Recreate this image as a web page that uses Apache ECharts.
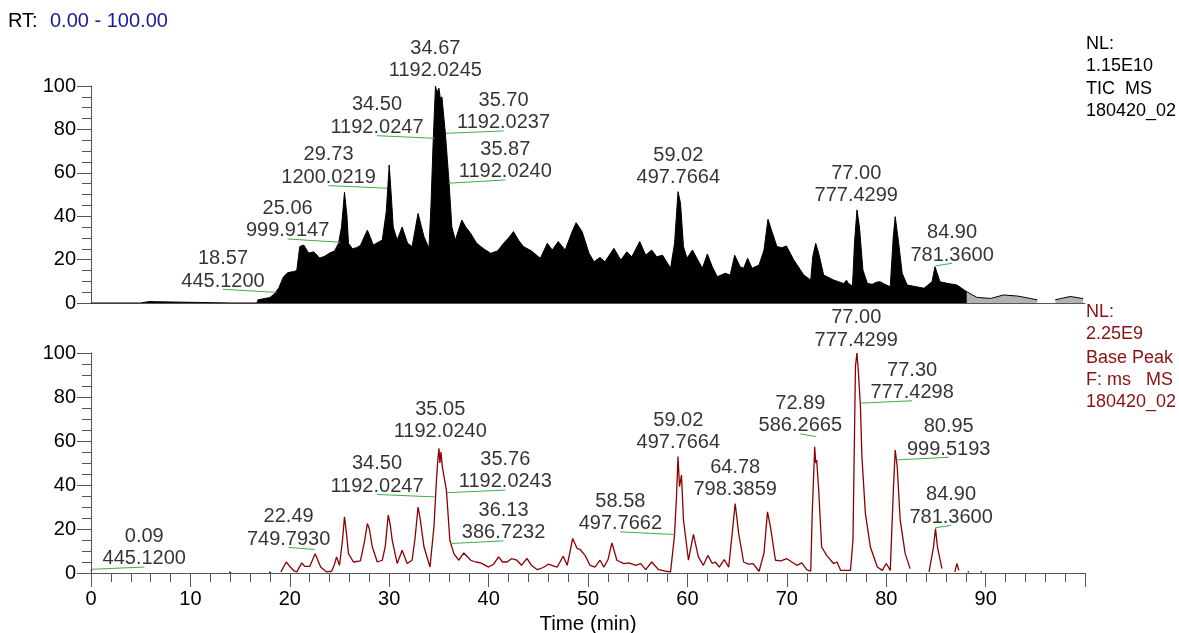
<!DOCTYPE html>
<html>
<head>
<meta charset="utf-8">
<script src="https://cdn.jsdelivr.net/npm/echarts@6/dist/echarts.min.js"></script>
<style>
html,body{margin:0;padding:0;background:#fff;}
#c{width:1179px;height:633px;}
</style>
</head>
<body>
<div id="c"></div>
<script>
// ---------------- DATA ----------------
// TIC trace (top panel), retention time (min) and relative abundance (%)
var ticRT  = [0,3.4,3.5,3.6,5.0,5.2,5.6,6.0,6.4,6.6,14.1,14.2,14.3,16.7,16.8,17.2,17.6,18.0,18.5,18.9,19.35,19.8,20.4,20.7,21.0,21.4,21.9,22.4,23.0,23.5,24.0,24.5,24.9,25.2,25.5,25.75,25.9,26.3,26.7,27.1,27.8,28.4,28.9,29.3,29.7,30.0,30.2,30.4,30.8,31.3,31.85,32.3,32.9,33.5,34.0,34.2,34.4,34.65,34.8,35.0,35.15,35.3,35.65,36.0,36.3,36.65,37.3,37.7,38.2,38.8,39.5,40.2,40.9,41.5,42.0,42.5,43.0,43.5,44.3,45.2,45.9,46.4,47.0,47.7,48.4,48.8,49.4,50.1,50.6,51.2,51.7,52.6,53.3,53.9,54.4,55.2,55.8,56.4,56.9,57.5,58.3,58.7,59.05,59.3,59.6,59.95,60.5,60.95,61.5,62.0,62.5,63.0,63.8,64.3,64.75,65.3,65.65,66.05,66.5,67.2,67.7,68.1,68.45,69.0,69.5,69.95,70.7,71.7,72.4,72.6,72.9,73.2,73.7,74.7,75.2,75.7,76.0,76.2,76.6,76.8,77.05,77.3,77.65,78.1,78.6,79.0,79.4,79.8,80.4,80.7,80.9,81.25,81.6,82.1,83.0,83.8,84.6,84.9,85.4,86.2,87.1,88.1];
var ticInt = [0,0,0.7,0,0,0.6,0.5,0.7,0.6,0,0,0.5,0,0,1.5,1.8,2.2,2.5,4.5,7,12,14,14.5,15,26,26.7,23,23.6,20.7,21.5,23,24,27.5,35,51,40,27.5,25,25.5,26.5,33.6,26.7,28,29,42,63.6,50,35,29,35,27.5,26,41.3,30.5,25.2,45,72,100,97,99,94,95,78,56.7,35,29,38.2,35,32,27.5,25,22.9,24,27.5,30,32.9,29,26,24,20.6,27.5,24.4,28.3,24.4,32.9,37,32.9,22.9,19,21,19,25.2,19.8,23.6,21.3,28.3,22,24.4,21.3,22,16,27.5,51.3,46,26,20.6,24.4,20.6,16,22.6,16.7,12.1,13.7,12.9,22,16.7,16,20.6,16,17.5,24.4,38.6,33.6,26,25.5,26.3,19.8,12.9,10.6,21.3,27.5,22.9,12.9,10.6,9.8,9,10.5,9,7.8,27.5,42.9,35,15.2,9,8.6,9.6,9.8,8.7,7.5,30.5,39.8,27.5,13.7,8.3,7.5,6.8,9.8,16.7,9.8,9,8.3,5.2];
// TIC tail (sparse scans)
var ticTailRT  = [88.1,89.1,90.5,91.8,93.2,94.5,95.2,95.4,96.2,96.3,96.4,97.0,97.5,98.5,99.2,99.8];
var ticTailInt = [5.2,2.6,2.1,3.7,3.2,2.1,1.4,null,null,0.8,null,1.5,2,3,2.5,2];

// Base peak trace (bottom panel)
var bpRT  = [0.0,0.09,0.2,0.3,13.9,14.0,14.1,14.2,17.9,18.0,18.1,18.2,19.1,19.2,19.65,20.05,20.4,20.7,21.2,21.5,21.7,22.0,22.55,23.1,23.7,24.2,24.5,24.7,25.0,25.3,25.5,25.7,25.9,26.4,27.1,27.5,27.8,28.0,28.3,28.8,29.3,29.6,29.9,30.1,30.3,30.8,31.3,31.8,32.3,32.6,32.9,33.1,33.5,34.1,34.5,34.75,34.9,35.0,35.1,35.2,35.35,35.5,35.75,36.1,36.5,37.0,37.5,38.2,38.7,39.2,40.0,40.5,41.0,41.4,41.85,42.3,42.85,43.3,43.85,44.3,44.9,45.5,46.0,46.2,46.9,47.5,47.9,48.2,48.45,48.9,49.2,49.7,50.2,50.7,51.2,51.6,52.0,52.4,52.9,53.6,54.1,54.8,55.3,55.8,56.4,57.1,57.8,58.3,58.7,58.9,59.05,59.2,59.4,59.6,60.1,60.6,61.1,61.6,62.05,62.5,62.8,63.2,63.7,64.15,64.5,64.8,65.15,65.65,66.15,66.6,67.2,67.7,68.05,68.35,68.85,69.4,70.0,70.5,71.0,71.5,72.0,72.4,72.55,72.8,72.9,73.0,73.2,73.5,74.0,74.7,75.05,75.4,76.4,76.65,76.9,77.05,77.2,77.4,77.55,77.9,78.4,79.1,79.6,80.0,80.4,80.7,80.9,81.1,81.4,81.9,82.4,82.6,84.3,84.4,84.75,84.95,85.15,85.6,85.8,86.9,87.1,87.3,87.4,88.2,88.3,88.4,89.5,89.6,89.7];
var bpInt = [0.8,1.7,0.5,null,0.3,1.0,0.3,null,0.3,1.0,0.3,null,0.5,1.2,5,2.7,1,0.5,4.6,3,3.5,3,8.8,2.7,0.5,0.8,4,7.3,3.5,15,25.5,18,8.8,5,5.5,14,22.5,20,11.8,5,5.8,12,26.3,22,14.9,4.3,10.3,4.3,5.8,16,30,25,11.8,2.7,21,42.3,52,56.7,50,55,48,48.3,37.7,14.9,8.8,5.8,9.1,5.8,5,4.6,2.7,4,7.3,5,5,6.5,5.8,3.5,6.6,3.5,1.5,2.5,4,4.6,2.7,7.6,3.5,10,15.7,11.1,10.7,8,3.5,2.7,5.8,2.7,6,13.7,5.8,4.3,4.6,3.5,4.3,1.5,5,1.5,0.8,0.5,17.2,35,52.9,39.2,44.5,24,5.8,17.6,7.3,3.5,8,4.3,5,2.7,6.1,2.7,18,31.6,18,5,4,4.3,0.8,9.1,27.8,21,5.8,5.5,6.5,5,3.5,4.6,1.5,0.8,27,57.4,50,51.4,37.7,11.8,8,4.3,5,1.2,1.2,14.9,93.9,100,90.9,75.7,52.9,27,11.8,2.7,1.2,4.3,1.2,36.2,55.9,48.3,24,8.8,2,null,0.5,1.2,11.8,20.2,11.8,2,null,0.5,4.3,1.2,null,0.3,0.8,null,0.3,0.8,null];

// Peak annotations: labels (RT, m/z) and the labelled point on the trace
var topAnnRT    = ['18.57','25.06','29.73','34.50','34.67','35.70','35.87','59.02','77.00','84.90'];
var topAnnMZ    = ['445.1200','999.9147','1200.0219','1192.0247','1192.0245','1192.0237','1192.0240','497.7664','777.4299','781.3600'];
var topAnnPeakT = [18.64,25.08,29.78,34.57,34.64,35.71,35.98,59.08,76.98,84.94];
var topAnnPeakV = [4.9,28.0,52.9,75.9,103.2,78.2,55.2,53.9,45.6,17.1];
var botAnnRT    = ['0.09','22.49','34.50','35.05','35.76','36.13','58.58','59.02','64.78','72.89','77.00','77.30','80.95','84.90'];
var botAnnMZ    = ['445.1200','749.7930','1192.0247','1192.0240','1192.0243','386.7232','497.7662','497.7664','798.3859','586.2665','777.4299','777.4298','999.5193','781.3600'];
var botAnnPeakT = [0.1,22.5,34.57,35.13,35.81,36.15,58.68,59.08,64.8,72.96,76.98,77.39,81.01,84.94];
var botAnnPeakV = [1.7,10.7,34.6,60.5,36.5,13.4,17.5,55.5,34.0,62.0,102,77.2,51.4,20.5];

var xTickLabels = ['0','10','20','30','40','50','60','70','80','90'];
var yTickLabels = ['0','20','40','60','80','100'];

// ---------------- LAYOUT (label anchors in axis units; null = label sits on the point) ----------------
var topLabelT = [13.28,19.78,23.9,28.77,null,41.5,41.68,null,null,86.62];
var topLabelV = [6.3,29.5,54.1,77.1,null,79.3,56.7,null,null,18.3];
var botLabelT = [5.36,19.88,28.77,null,41.68,41.5,53.25,null,null,71.35,null,82.6,86.28,86.52];
var botLabelV = [2.7,11.6,35.7,null,37.7,14.6,18.7,null,null,63.2,null,78.3,52.6,21.7];

var FONT = '"Liberation Sans", Arial, Helvetica, sans-serif';

function zip(a, b) { var r = []; for (var i = 0; i < a.length; i++) r.push([a[i], b[i]]); return r; }

function annLabels(rt, mz, pt, pv, lt, lv) {
  var out = [];
  for (var i = 0; i < rt.length; i++) {
    var x = lt[i] == null ? pt[i] : lt[i];
    var y = lv[i] == null ? pv[i] : lv[i];
    out.push({ value: [x, y], rt: rt[i], mz: mz[i] });
  }
  return out;
}
function annLeaders(pt, pv, lt, lv) {
  var out = [];
  for (var i = 0; i < pt.length; i++) {
    if (lt[i] == null) continue;
    out.push({ coords: [[pt[i], pv[i]], [lt[i], lv[i]]] });
  }
  return out;
}

var chart = echarts.init(document.getElementById('c'), null, { renderer: 'canvas' });

function xAxis(idx, showTicks) {
  return {
    type: 'value', gridIndex: idx, min: 0, max: 99.99, interval: 10,
    axisLine: { show: true, onZero: false, lineStyle: { color: '#555', width: 1 } },
    axisTick: { show: showTicks, length: 14, lineStyle: { color: '#555' } },
    minorTick: { show: showTicks, splitNumber: 5, length: 9, lineStyle: { color: '#555' } },
    axisLabel: { show: showTicks, margin: 16, color: '#000', fontSize: 20, fontFamily: FONT,
      formatter: function (v) { var k = xTickLabels.indexOf(String(Math.round(v))); return k >= 0 ? xTickLabels[k] : ''; } },
    splitLine: { show: false }, minorSplitLine: { show: false },
    name: showTicks ? 'Time (min)' : '', nameLocation: 'middle', nameGap: 41,
    nameTextStyle: { color: '#000', fontSize: 20.5, fontFamily: FONT }
  };
}
function yAxis(idx) {
  return {
    type: 'value', gridIndex: idx, min: 0, max: 100, interval: 20,
    axisLine: { show: true, lineStyle: { color: '#555', width: 1 } },
    axisTick: { show: true, length: 14, lineStyle: { color: '#555' } },
    minorTick: { show: true, splitNumber: 4, length: 9, lineStyle: { color: '#555' } },
    axisLabel: { margin: 15, color: '#000', fontSize: 20, fontFamily: FONT,
      formatter: function (v) { var k = yTickLabels.indexOf(String(Math.round(v))); return k >= 0 ? yTickLabels[k] : ''; } },
    splitLine: { show: false }, minorSplitLine: { show: false }
  };
}

var labelStyle = {
  show: true, position: 'top', distance: -3, color: '#000', fontSize: 20, lineHeight: 22.5,
  fontFamily: FONT, align: 'center',
  formatter: function (p) { return p.data.rt + '\n' + p.data.mz; }
};

function txt(x, y, s, color, size) {
  return { type: 'text', left: x, top: y, style: { text: s, fill: color, font: size + 'px ' + FONT } };
}
var red = '#8b1010';

var option = {
  animation: false,
  backgroundColor: '#fff',
  grid: [
    { left: 91, width: 994, top: 86, height: 217, outerBoundsMode: 'none', containLabel: false },
    { left: 91, width: 994, top: 353, height: 220, outerBoundsMode: 'none', containLabel: false }
  ],
  xAxis: [xAxis(0, false), xAxis(1, true)],
  yAxis: [yAxis(0), yAxis(1)],
  graphic: [
    txt(8, 11, 'RT:', '#000', 20),
    txt(50, 11, '0.00 - 100.00', '#1a1a9c', 20),
    txt(1086, 35, 'NL:', '#000', 18),
    txt(1086, 57, '1.15E10', '#000', 18),
    txt(1086, 80, 'TIC  MS', '#000', 18),
    txt(1086, 102, '180420_02', '#000', 18),
    txt(1086, 303, 'NL:', red, 18),
    txt(1086, 325, '2.25E9', red, 18),
    txt(1086, 349, 'Base Peak', red, 18),
    txt(1086, 371, 'F: ms   MS', red, 18),
    txt(1086, 393, '180420_02', red, 18)
  ],
  series: [
    { type: 'line', xAxisIndex: 0, yAxisIndex: 0, data: zip(ticRT, ticInt), symbol: 'none',
      lineStyle: { color: '#000', width: 1 }, areaStyle: { color: '#000', opacity: 1 }, z: 2 },
    { type: 'line', xAxisIndex: 0, yAxisIndex: 0, data: zip(ticTailRT, ticTailInt), symbol: 'none',
      lineStyle: { color: '#000', width: 1 }, areaStyle: { color: '#000', opacity: 0.3 }, z: 2 },
    { type: 'line', xAxisIndex: 1, yAxisIndex: 1, data: zip(bpRT, bpInt), symbol: 'none',
      lineStyle: { color: '#8b0000', width: 1.3 }, z: 2 },
    { type: 'lines', coordinateSystem: 'cartesian2d', xAxisIndex: 0, yAxisIndex: 0,
      data: annLeaders(topAnnPeakT, topAnnPeakV, topLabelT, topLabelV),
      lineStyle: { color: '#3cb043', width: 1, opacity: 1 }, z: 3 },
    { type: 'lines', coordinateSystem: 'cartesian2d', xAxisIndex: 1, yAxisIndex: 1,
      data: annLeaders(botAnnPeakT, botAnnPeakV, botLabelT, botLabelV),
      lineStyle: { color: '#3cb043', width: 1, opacity: 1 }, z: 3 },
    { type: 'scatter', xAxisIndex: 0, yAxisIndex: 0, symbolSize: 0, clip: false, silent: true,
      data: annLabels(topAnnRT, topAnnMZ, topAnnPeakT, topAnnPeakV, topLabelT, topLabelV),
      label: labelStyle, z: 4 },
    { type: 'scatter', xAxisIndex: 1, yAxisIndex: 1, symbolSize: 0, clip: false, silent: true,
      data: annLabels(botAnnRT, botAnnMZ, botAnnPeakT, botAnnPeakV, botLabelT, botLabelV),
      label: labelStyle, z: 4 }
  ]
};
chart.setOption(option);
</script>
</body>
</html>
